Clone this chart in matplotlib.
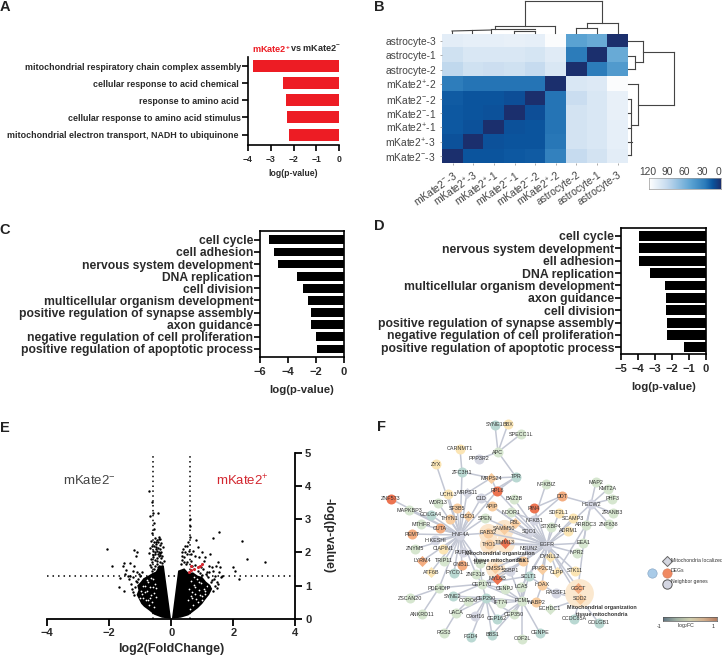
import numpy as np
import matplotlib
matplotlib.use('Agg')
import matplotlib.pyplot as plt
from matplotlib.colors import LinearSegmentedColormap

plt.rcParams['font.family'] = ['Liberation Sans', 'DejaVu Sans']
plt.rcParams['mathtext.default'] = 'regular'

W, H = 722, 663
DARK = '#2a2a2a'
RED = '#ed1c24'

# panel A
a_terms = ['mitochondrial respiratory chain complex assembly', 'cellular response to acid chemical ',
           'response to amino acid ', 'cellular response to amino acid stimulus',
           'mitochondrial electron transport, NADH to ubiquinone ']
a_vals = [-3.78, -2.47, -2.35, -2.3, -2.2]

# panel B
b_rows = ['astrocyte-3', 'astrocyte-1', 'astrocyte-2', 'mKate2$^{+}$-2', 'mKate2$^{-}$-2', 'mKate2$^{-}$-1',
          'mKate2$^{+}$-1', 'mKate2$^{+}$-3', 'mKate2$^{-}$-3']
b_cols = ['mKate2$^{-}$-3', 'mKate2$^{+}$-3', 'mKate2$^{+}$-1', 'mKate2$^{-}$-1', 'mKate2$^{-}$-2', 'mKate2$^{+}$-2',
          'astrocyte-2', 'astrocyte-1', 'astrocyte-3']
b_vals = [[105, 107, 107, 108, 107, 118, 50, 55, 0],
          [95, 100, 100, 100, 98, 104, 27, 0, 55],
          [88, 95, 93, 95, 90, 100, 0, 27, 45],
          [28, 24, 24, 24, 24, 0, 100, 102, 118],
          [16, 14, 14, 12, 0, 24, 92, 100, 108],
          [15, 14, 13, 0, 12, 24, 97, 100, 108],
          [15, 13, 0, 13, 14, 24, 97, 100, 107],
          [13, 0, 13, 14, 14, 25, 97, 100, 107],
          [0, 14, 14, 15, 16, 30, 90, 97, 105]]
b_ticks = ['120', '90', '60', '30', '0']
b_tick_px = [648, 667, 684, 702, 718]

# dendrogram segments in figure pixels: x0, y0, x1, y1
top_dendro = [(525, 1, 602, 1), (525, 1, 525, 26), (602, 1, 602, 23), (495, 26, 555, 26), (555, 26, 555, 33),
              (495, 26, 495, 29), (452, 31, 491, 30), (452, 31, 452, 33), (472, 30, 472, 33), (491, 30, 491, 33),
              (491, 29, 535, 29), (514, 31, 535, 31), (514, 31, 514, 33), (535, 31, 535, 33),
              (587, 23, 618, 23), (618, 23, 618, 33), (587, 23, 587, 28), (576, 28, 597, 28), (576, 28, 576, 33),
              (597, 28, 597, 33)]
right_dendro = [(674, 52, 674, 105), (643, 52, 674, 52), (638, 105, 674, 105), (643, 41, 643, 62),
                (628, 41, 643, 41), (635, 62, 643, 62), (635, 56, 635, 69), (628, 56, 635, 56), (628, 69, 635, 69),
                (638, 84, 638, 125), (628, 84, 638, 84), (631, 125, 638, 125), (631, 99, 631, 155),
                (628, 99, 631, 99), (628, 113, 631, 113), (628, 128, 631, 128), (628, 142, 632, 142),
                (628, 155, 631, 155)]

# panel C
c_terms = ['cell cycle', 'cell adhesion', 'nervous system development', 'DNA replication', 'cell division',
           'multicellular organism development', 'positive regulation of synapse assembly', 'axon guidance',
           'negative regulation of cell proliferation', 'positive regulation of apoptotic process']
c_vals = [-5.35, -5.02, -4.69, -3.35, -2.9, -2.58, -2.39, -2.34, -2.03, -1.96]

# panel D
d_terms = ['cell cycle', 'nervous system development', 'ell adhesion', 'DNA replication',
           'multicellular organism development', 'axon guidance', 'cell division',
           'positive regulation of synapse assembly', 'negative regulation of cell proliferation',
           'positive regulation of apoptotic process']
d_vals = [-3.94, -3.94, -3.94, -3.33, -2.42, -2.38, -2.34, -2.32, -2.32, -1.28]

# panel E, outline of the dense cloud
e_left_x = [-0.01, -0.3, -0.55, -0.72, -0.88, -0.97, -1.04, -1.12, -1.06, -1.1, -0.98, -0.9, -0.74, -0.6, -0.5, -0.44,
            -0.37, -0.24]
e_left_y = [0.0, 0.03, 0.12, 0.25, 0.36, 0.45, 0.58, 0.72, 0.86, 1.0, 1.12, 1.22, 1.3, 1.38, 1.42, 1.52, 1.6, 1.6]
e_right_x = [0.02, 0.3, 0.55, 0.72, 0.86, 1.0, 1.1, 1.22, 1.32, 1.25, 1.12, 1.0, 0.85, 0.7, 0.56, 0.42, 0.22]
e_right_y = [0.0, 0.03, 0.1, 0.22, 0.32, 0.45, 0.58, 0.72, 0.9, 1.02, 1.12, 1.26, 1.3, 1.4, 1.38, 1.52, 1.45]
# gaps inside the cloud
e_gap_x = [-0.95, -0.9, -0.82, -0.78, -0.75, -0.7, -0.68, -0.62, -0.6, -0.57, -0.55, -0.52, -0.86, -0.92, -0.8, -0.72,
           -0.66, -0.58, -0.64, -0.74, -0.84, -0.98, -1.0, -0.48, -0.5,
           0.55, 0.58, 0.6, 0.63, 0.66, 0.7, 0.74, 0.78, 0.82, 0.86, 0.9, 0.95, 1.0, 1.05, 1.1, 1.15, 0.68, 0.72, 0.8,
           0.88, 0.98, 1.08, 0.62, 0.76, 0.92]
e_gap_y = [0.75, 1.0, 0.55, 0.85, 1.1, 0.62, 0.95, 0.5, 1.2, 0.78, 0.35, 1.05, 0.82, 0.62, 1.18, 0.4, 1.22, 0.95, 0.72,
           0.55, 0.98, 0.85, 0.62, 0.65, 0.92,
           0.55, 0.9, 0.3, 1.15, 0.62, 0.42, 1.02, 0.75, 1.2, 0.5, 0.88, 1.08, 0.68, 0.9, 0.75, 0.98, 0.82, 1.25, 0.58,
           1.1, 0.55, 0.85, 0.7, 0.95, 0.72]
e_pts_x = [-0.73, -0.62, -0.44, -0.69, -0.6, -0.57, -0.52, -0.4, -0.45, -0.55, -0.62, -0.48, -0.38, -0.6, -0.66,
           -0.5, -0.42, -0.3, -0.34, -0.58, -0.68, -0.46, -0.36, -0.53, -0.29, -0.41, -0.63, -0.72, -0.56, -0.33,
           -0.47, -0.39, -0.61, -0.25, -0.52, -0.44, -0.35, -0.7, -0.64, -0.28, -0.49, -0.43, -0.37, -0.55, -0.59,
           -0.51, -0.45, -0.4, -0.32, -0.65, -0.54, -0.47, -0.41, -0.36, -0.31, -0.57, -0.62, -0.5, -0.44, -0.38,
           -2.08, -1.9, -1.19, -1.12, -1.14, -1.53, -1.33, -1.68, -1.52, -1.66, -1.56, -1.45, -1.4, -1.25, -1.2,
           -1.3, -1.1, -1.02, -0.95, -1.38, -1.5, -1.28, -1.22, -1.15, -1.05, -1.18, -1.25, -1.12, -1.08, -1.32, -1.2,
           0.6, 1.35, 1.55, 2.29, 2.45, 3.02, 2.0, 2.05, 2.17, 0.6, 0.6, 0.38, 0.45, 0.52, 0.7, 0.85, 0.98, 1.1, 1.25,
           1.5, 1.58, 1.62, 1.45, 1.35, 1.55, 1.2, 1.05, 0.9, 0.75, 0.62, 0.5, 0.33, 0.42, 0.55, 0.8, 0.95, 1.15,
           1.3, 1.42, 1.52, 1.6, 1.48, 1.38, 0.3, 0.4, 0.48, 0.35, 0.68, 0.58, 1.27, 1.18, 1.02, 0.44, 0.5, 0.36, 0.65,
           0.75, 0.85, 0.92, 1.0, 1.12, 1.22, 1.4, 1.46, 1.36, 1.3, 1.2]
e_pts_y = [3.86, 3.52, 3.19, 3.11, 3.2, 2.88, 2.45, 2.48, 2.38, 2.3, 2.2, 2.25, 2.1, 2.05, 2.35,
           2.15, 1.95, 1.9, 2.28, 1.85, 2.12, 1.75, 1.72, 1.95, 1.68, 2.42, 2.6, 1.98, 2.7, 2.0,
           1.82, 1.6, 1.7, 1.75, 2.02, 2.3, 1.92, 1.62, 1.8, 2.15, 2.32, 2.12, 2.22, 2.18, 1.92,
           1.78, 1.66, 1.88, 1.82, 1.55, 1.6, 2.05, 2.0, 2.4, 1.58, 1.5, 1.45, 2.1, 1.56, 1.98,
           2.11, 1.6, 2.07, 2.0, 1.9, 1.69, 1.67, 0.97, 0.83, 1.22, 1.58, 1.47, 1.3, 1.45, 1.58,
           1.05, 1.42, 1.28, 1.4, 1.2, 1.35, 0.9, 1.25, 1.15, 1.35, 0.95, 0.8, 1.1, 1.2, 1.28, 0.72,
           2.47, 2.43, 2.63, 2.35, 1.81, 1.7, 1.55, 1.45, 1.2, 3.0, 2.8, 2.1, 2.2, 1.95, 2.05, 2.15, 2.0, 1.85, 1.95,
           1.72, 1.55, 1.3, 1.6, 1.45, 1.42, 1.6, 1.75, 1.85, 1.9, 1.75, 2.18, 1.9, 1.72, 2.3, 2.36, 1.55, 1.4,
           1.55, 1.3, 1.05, 1.25, 1.12, 1.2, 1.65, 1.85, 1.65, 2.0, 1.6, 2.05, 1.1, 1.25, 1.5, 2.02, 1.7, 1.78, 1.95,
           1.62, 1.45, 1.38, 1.32, 1.35, 1.42, 1.0, 0.92, 0.85, 1.18, 0.98]
e_red_x = [0.58, 0.65, 0.72, 0.85, 0.92, 0.98, 0.62]
e_red_y = [1.42, 1.6, 1.5, 1.55, 1.6, 1.66, 1.48]

# panel F, network in figure pixels
f_names = ['SYNE1', 'BBX', 'SPECC1L', 'APC', 'CARNMT1', 'PPP3R2', 'ZYX', 'ZFC3H1', 'TPR', 'MRPS24', 'RPL8', 'UCHL3',
           'MRPS11', 'C1D', 'BAZ2B', 'ZNF573', 'WDR13', 'SF3B5', 'APIP', 'MAPKBP3', 'PIN4', 'NDOR1', 'GOLGA4',
           'THYN1', 'CISD1', 'SPEN', 'FBL', 'NFKB1', 'MTHFR', 'CUTA', 'RAB32', 'SAMM50', 'SQO1', 'HNF4A', 'PEMT',
           'HIKESHI', 'ZNYM5', 'CIAPIN1', 'THO1', 'TIMM13', 'RUFY2', 'LYRM4', 'TRIP11', 'GNB1L', 'TMF1', 'CMSS1',
           'SSBP1', 'PLK1', 'ATF6B', 'FYCO1', 'ZNF318', 'SCLT1', 'MYL6B', 'CEP170', 'CENPJ', 'LCA5', 'PDE4DIP',
           'SYNE2', 'CEP290', 'ZSCAN20', 'CORO6', 'IFT74', 'PCM1', 'NABP2', 'ANKRD11', 'UACA', 'C9orf16', 'CEP350',
           'CEP162', 'RGS3', 'FGD4', 'BBS1', 'ODF2L', 'CENPE', 'NFKBIZ', 'DDT', 'MAP2', 'KMT2A', 'HECW2', 'PHF3',
           'SDF2L1', 'SCAMP3', 'ZRANB3', 'ZNF638', 'ARRDC3', 'STXBP4', 'ADRM1', 'EGFR', 'EEA1', 'NPR2', 'NSUN2',
           'DYNLL2', 'PPP2CB', 'CLPP', 'STK11', 'HDAX', 'GGCT', 'RASSF1', 'SOD2', 'ECHDC1', 'CCDC85A', 'GOLGB1']
f_x = [495, 508, 521, 498, 460, 479, 436, 462, 516, 491, 497, 448, 467, 481, 514, 391, 438, 457, 492, 409, 534, 511,
       431, 450, 468, 485, 515, 534, 421, 440, 488, 504, 529, 460, 412, 435, 415, 443, 489, 505, 463, 422, 444, 462,
       480, 495, 510, 523, 431, 454, 476, 529, 497, 482, 505, 521, 439, 453, 486, 410, 468, 501, 522, 536, 422, 456,
       475, 514, 497, 444, 471, 492, 522, 540, 546, 562, 596, 608, 591, 612, 559, 573, 613, 609, 586, 551, 568, 547,
       583, 577, 529, 550, 542, 557, 575, 542, 578, 556, 580, 550, 574, 599]
f_y = [425, 424, 434, 452, 449, 459, 464, 472, 477, 478, 491, 494, 493, 498, 499, 499, 503, 508, 506, 510, 508, 512,
       515, 519, 516, 518, 523, 520, 524, 528, 533, 529, 532, 535, 534, 540, 549, 549, 544, 543, 552, 561, 561, 565,
       563, 568, 571, 561, 572, 573, 574, 576, 579, 584, 589, 587, 588, 596, 598, 598, 601, 603, 601, 602, 614, 613,
       616, 614, 619, 633, 637, 635, 639, 633, 484, 496, 482, 489, 504, 499, 513, 518, 513, 524, 525, 527, 531, 545,
       543, 553, 549, 557, 569, 572, 571, 585, 588, 593, 599, 609, 619, 623]
f_group = ['t', 'y', 'g', 'g', 'y', 'b', 'y', 't', 't', 'o', 'r', 'y', 'b', 'b', 'g', 'r', 'g', 'o', 'o', 'g', 'r', 'g',
           't', 'o', 'o', 'g', 'o', 'b', 'g', 'p', 'o', 'o', 'b', 'b', 'p', 'b', 'g', 'y', 'o', 'r', 'b', 'p', 'g', 'p',
           'g', 'o', 'b', 'o', 'y', 't', 'g', 't', 'r', 'g', 'g', 'g', 'g', 't', 't', 'g', 'g', 'g', 'g', 'o', 'g', 'g',
           'b', 'g', 't', 'g', 't', 't', 'g', 't', 'g', 'p', 'g', 'g', 'b', 'g', 'y', 'y', 'g', 'g', 'g', 'g', 'y', 'b',
           'g', 'g', 'b', 'y', 'o', 'y', 'y', 'o', 'p', 'b', 'o', 'g', 't', 't']
f_diamonds = ['MRPS24', 'CISD1', 'TIMM13', 'LYRM4', 'FBL', 'SAMM50', 'MRPS11', 'CMSS1', 'MYL6B', 'ECHDC1', 'GGCT', 'SOD2',
              'CLPP', 'DYNLL2', 'ATF6B', 'PPP2CB']
f_halo = ['RAB32', 'SAMM50', 'THO1', 'TIMM13', 'CMSS1']
f_hubs = {'HNF4A': ['ZYX', 'ZFC3H1', 'UCHL3', 'MRPS11', 'WDR13', 'SF3B5', 'THYN1', 'CISD1', 'GOLGA4', 'MTHFR', 'CUTA',
                    'PEMT', 'HIKESHI', 'ZNYM5', 'CIAPIN1', 'RUFY2', 'TRIP11', 'GNB1L', 'LYRM4', 'TMF1', 'RPL8', 'ZNF573',
                    'MAPKBP3', 'ATF6B', 'FYCO1', 'RAB32', 'SPEN', 'C1D', 'ZNF318'],
          'EGFR': ['NFKB1', 'PIN4', 'NDOR1', 'SQO1', 'STXBP4', 'ADRM1', 'SCAMP3', 'SDF2L1', 'EEA1', 'NPR2', 'DYNLL2',
                   'PPP2CB', 'CLPP', 'STK11', 'NSUN2', 'HDAX', 'SCLT1', 'FBL', 'SAMM50', 'RAB32', 'TIMM13', 'THO1', 'SPEN',
                   'APIP', 'C1D', 'RPL8', 'PLK1', 'LCA5', 'SSBP1', 'CMSS1', 'MYL6B', 'HECW2', 'GGCT', 'SOD2', 'BAZ2B'],
          'HECW2': ['MAP2', 'KMT2A', 'PHF3', 'ZRANB3', 'ZNF638', 'DDT', 'ARRDC3', 'EEA1'],
          'APC': ['SYNE1', 'BBX', 'SPECC1L', 'PPP3R2', 'TPR'],
          'PCM1': ['LCA5', 'CEP350', 'CEP162', 'BBS1', 'ODF2L', 'CENPJ', 'IFT74', 'CEP290', 'CENPE', 'NABP2', 'SCLT1',
                   'SSBP1', 'NSUN2', 'CEP170'],
          'CEP290': ['CEP170', 'CORO6', 'IFT74', 'CEP162', 'C9orf16', 'FGD4', 'BBS1', 'SYNE2', 'UACA', 'CEP350'],
          'CEP170': ['PDE4DIP', 'ZNF318', 'SYNE2', 'TMF1', 'MYL6B', 'CENPJ', 'PLK1', 'SCLT1'],
          'PDE4DIP': ['ZSCAN20', 'ANKRD11', 'HNF4A'],
          'MRPS24': ['ZFC3H1', 'RPL8', 'TPR', 'MRPS11'],
          'UACA': ['RGS3', 'CORO6'],
          'NFKB1': ['NFKBIZ', 'DDT', 'NDOR1'],
          'TPR': ['C1D', 'RPL8'],
          'CARNMT1': ['ZFC3H1'],
          'DDT': ['PIN4'],
          'SOD2': ['CCDC85A', 'GOLGB1', 'RASSF1', 'ECHDC1'],
          'HDAX': ['RASSF1', 'NABP2', 'SCLT1'],
          'ARRDC3': ['GGCT', 'CLPP']}
f_legend = ['Mitochondria localized', 'DEGs', 'Neighbor genes']

group_cols = {'g': '#d6e6cf', 't': '#b9d8d2', 'o': '#f8cda0', 'p': '#f4ad80', 'r': '#ec7350', 'y': '#fbe5b4',
              'b': '#d4d6e2'}
# value / 120 -> colour, dark at 0
blues = LinearSegmentedColormap.from_list('blu', [(0, '#1b2f6d'), (14 / 120, '#0b559f'), (26 / 120, '#2b7bba'),
                                                  (50 / 120, '#5ba3d3'), (90 / 120, '#c6dbef'), (1, '#ffffff')])


def px_axes(x0, y0, x1, y1):
    return fig.add_axes([x0 / W, 1 - y1 / H, (x1 - x0) / W, (y1 - y0) / H])


def bars(box, terms, vals, color, xmin, ylims, height, lab_fs, tick_fs, xlab_fs, frame, lpad):
    ax = px_axes(*box)
    y = np.arange(len(vals))
    ax.barh(y, vals, height=height, color=color, zorder=2)
    ax.set_xlim(xmin, 0)
    ax.set_ylim(*ylims)
    ax.set_yticks(y)
    ax.set_yticklabels(terms, fontsize=lab_fs, fontweight='bold', color=DARK)
    ax.set_xticks(np.arange(xmin, 1, 2 if xmin == -6 else 1))
    ax.tick_params(axis='x', labelsize=tick_fs, length=4, width=1.2, pad=3, labelcolor=DARK)
    ax.tick_params(axis='y', length=4, width=1.2, pad=1)
    for lab in ax.get_xticklabels():
        lab.set_fontweight('bold')
    ax.set_xlabel('log(p-value)', fontsize=xlab_fs, fontweight='bold', color=DARK, labelpad=lpad)
    ax.spines['top'].set_visible(frame)
    ax.spines['right'].set_visible(frame)
    for s in ax.spines.values():
        s.set_linewidth(1.2)
    return ax


fig = plt.figure(figsize=(W / 100, H / 100), dpi=100)

# bar panels
bars((248, 57, 339, 145), a_terms, a_vals, RED, -4, (4.61, -0.53), 0.7, 6.4, 6.2, 6.2, False, 4)
bars((260, 231, 344, 357), c_terms, c_vals, 'black', -6, (9.66, -0.72), 0.72, 8.7, 8, 8.2, True, 6)
bars((621.3, 227.7, 706, 354), d_terms, d_vals, 'black', -5, (9.54, -0.67), 0.8, 8.8, 8, 8.2, True, 6)

# heatmap
ax_b = px_axes(442.3, 33.7, 628, 163.3)
ax_b.imshow(np.array(b_vals), cmap=blues, vmin=0, vmax=120, aspect='auto')
ax_b.set_xticks(range(9))
ax_b.set_xticklabels(b_cols, rotation=35, ha='right', rotation_mode='anchor', fontsize=7.4, color='#444444')
ax_b.set_yticks(range(9))
ax_b.set_yticklabels(b_rows, fontsize=7.4, color='#444444')
ax_b.tick_params(length=1.5, width=0.5, color='#888888', pad=3)
for s in ax_b.spines.values():
    s.set_visible(False)

ax_cb = px_axes(649, 177.7, 721, 188.7)
ax_cb.imshow(np.linspace(120, 0, 256).reshape(1, -1), cmap=blues, vmin=0, vmax=120, aspect='auto')
ax_cb.set_yticks([])
ax_cb.set_xticks([])
for s in ax_cb.spines.values():
    s.set_linewidth(0.5)
    s.set_color('#999999')

# volcano
ax_e = px_axes(47.3, 453, 295.3, 618.7)
ax_e.set_xlim(-4, 4)
ax_e.set_ylim(0, 5)
ax_e.fill(e_left_x, e_left_y, color='black', linewidth=0, zorder=2)
ax_e.fill(e_right_x, e_right_y, color='black', linewidth=0, zorder=2)
ax_e.scatter(e_gap_x, e_gap_y, s=1.6, color='white', linewidths=0, zorder=3)
ax_e.scatter(e_pts_x, e_pts_y, s=3, color='black', linewidths=0, zorder=3)
ax_e.scatter(e_red_x, e_red_y, s=5, color='#d3262f', linewidths=0, zorder=4)
ax_e.plot([-4, 4], [1.3, 1.3], color='black', lw=1.1, ls=(0, (1, 2.6)), zorder=1)
for v in [-0.6, 0.6]:
    ax_e.plot([v, v], [0, 5], color='black', lw=1.1, ls=(0, (1, 2.2)), zorder=1)
ax_e.set_xticks([-4, -2, 0, 2, 4])
ax_e.set_yticks(range(6))
ax_e.yaxis.tick_right()
ax_e.yaxis.set_label_position('right')
ax_e.tick_params(length=5, width=1.3, labelsize=8, pad=2, labelcolor=DARK)
for lab in ax_e.get_xticklabels() + ax_e.get_yticklabels():
    lab.set_fontweight('bold')
ax_e.set_xlabel('log2(FoldChange)', fontsize=9, fontweight='bold', color=DARK, labelpad=3)
ax_e.set_ylabel('-log(p-value)', fontsize=9, fontweight='bold', color=DARK, rotation=270, labelpad=17)
ax_e.spines['top'].set_visible(False)
ax_e.spines['left'].set_visible(False)
ax_e.spines['bottom'].set_linewidth(1.3)
ax_e.spines['right'].set_linewidth(1.3)
ax_e.patch.set_alpha(0)
ax_e.text(-2.65, 4.17, 'mKate2$^{-}$', fontsize=9.5, color='#444444', ha='center', va='center')
ax_e.text(2.3, 4.17, 'mKate2$^{+}$', fontsize=9.5, color='#d3262f', ha='center', va='center')

# overlay in figure pixels
ov = fig.add_axes([0, 0, 1, 1], zorder=5)
ov.set_xlim(0, W)
ov.set_ylim(H, 0)
ov.axis('off')
ov.patch.set_alpha(0)

for s in top_dendro:
    ov.plot([s[0], s[2]], [s[1], s[3]], color='#444444', lw=0.8, solid_capstyle='projecting')
for s in right_dendro:
    ov.plot([s[0], s[2]], [s[1], s[3]], color='#444444', lw=0.8, solid_capstyle='projecting')

for lab, x, px in zip(b_ticks, b_tick_px, b_tick_px):
    ov.text(px, 172, lab, fontsize=7.4, color='#444444', ha='center', va='center')

for lab, x, y in [('A', 5, 7), ('B', 379, 7), ('C', 5, 230), ('D', 379, 226), ('E', 5, 428), ('F', 382, 427)]:
    ov.text(x, y, lab, fontsize=10.5, fontweight='bold', color='#222222', ha='center', va='center')

ov.text(252, 49, 'mKate2$^{+}$', fontsize=6.6, fontweight='bold', color=RED, ha='left', va='center')
ov.text(290, 49, 'vs mKate2$^{-}$', fontsize=6.6, fontweight='bold', color=DARK, ha='left', va='center')

# network
pos = {n: (f_x[i], f_y[i]) for i, n in enumerate(f_names)}
for hub, others in f_hubs.items():
    for o in others:
        ov.plot([pos[hub][0], pos[o][0]], [pos[hub][1], pos[o][1]], color='#c3c7d4', lw=1.1, zorder=1)
ov.scatter([pos[n][0] for n in f_halo], [pos[n][1] for n in f_halo], s=190, color='#fbe6cc', linewidths=0, zorder=0.5)
ov.scatter([pos['GGCT'][0] + 1], [pos['GGCT'][1] + 5], s=430, color='#fbe8cf', linewidths=0, zorder=1.5)
for i, n in enumerate(f_names):
    mk = 'D' if n in f_diamonds else 'o'
    sz = 32 if n in f_diamonds else 52
    ov.scatter(f_x[i], f_y[i], s=sz, marker=mk, color=group_cols[f_group[i]], linewidths=0, zorder=2)
    ov.text(f_x[i], f_y[i], n, fontsize=3.9, color='#333333', ha='center', va='center', zorder=3)
for x, y, t in [(500, 553, 'Mitochondrial organization'), (500, 561, 'tissue mitochondria'),
                (602, 608, 'Mitochondrial organization'), (602, 614, 'tissue mitochondria')]:
    ov.text(x, y, t, fontsize=3.9, fontweight='bold', color='#333333', ha='center', va='center', zorder=3)

# network legend
ov.scatter(667, 561, s=26, marker='D', color='#d4d6e0', edgecolors='#666666', linewidths=0.7, zorder=2)
ov.scatter(652, 573, s=45, color='#a9cbe8', edgecolors='#7f9fc0', linewidths=0.4, zorder=2)
ov.scatter(667, 573, s=45, color='#f08a62', edgecolors='#d07a5a', linewidths=0.4, zorder=2)
ov.scatter(667, 584, s=45, color='#d4d6e2', edgecolors='#555555', linewidths=0.7, zorder=2)
for y, t in zip([560, 571, 582], f_legend):
    ov.text(671, y, t, fontsize=3.7, color='#333333', ha='left', va='center')
fc_cmap = LinearSegmentedColormap.from_list('fc', ['#5f7482', '#9fb0a2', '#cfcfae', '#d2b08e', '#b67f62'])
ax_fc = px_axes(663, 617, 717, 621)
ax_fc.imshow(np.linspace(-1, 1, 128).reshape(1, -1), cmap=fc_cmap, aspect='auto')
ax_fc.set_xticks([])
ax_fc.set_yticks([])
for s in ax_fc.spines.values():
    s.set_linewidth(0.5)
    s.set_color('#555555')
ov.text(659, 626, '-1', fontsize=3.9, color='#333333', ha='center', va='center')
ov.text(686, 626, 'log$_2$FC', fontsize=3.9, color='#333333', ha='center', va='center')
ov.text(713, 626, '1', fontsize=3.9, color='#333333', ha='center', va='center')

fig.savefig('out.png', dpi=100)
